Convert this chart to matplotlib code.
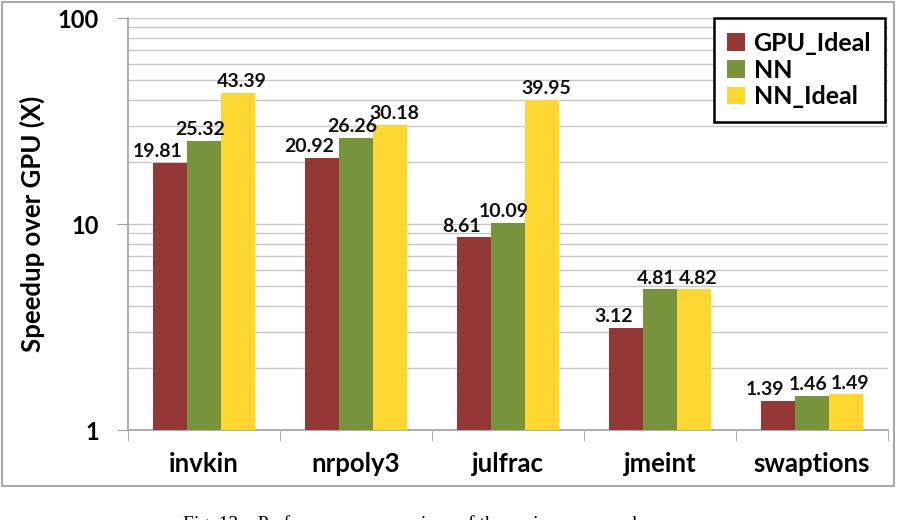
import matplotlib
matplotlib.use("Agg")
import matplotlib.pyplot as plt
import numpy as np
from matplotlib.patches import Rectangle

benchmarks = ["invkin", "nrpoly3", "julfrac", "jmeint", "swaptions"]
series_names = ["GPU_Ideal", "NN", "NN_Ideal"]
gpu_ideal = [19.81, 20.92, 8.61, 3.12, 1.39]
nn = [25.32, 26.26, 10.09, 4.81, 1.46]
nn_ideal = [43.39, 30.18, 39.95, 4.82, 1.49]
colors = ["#953735", "#77933C", "#FFD731"]

plt.rcParams["font.family"] = ["Lato", "DejaVu Sans"]

fig = plt.figure(figsize=(8.98, 5.2), dpi=100)
ax = fig.add_axes([128 / 898, 1 - 430 / 520, 760 / 898, 412 / 520])

x = np.arange(len(benchmarks))
w = 0.224
label_shift = [-9, -3, 3]  # points, keeps neighbouring labels apart
for i, (vals, name) in enumerate(zip([gpu_ideal, nn, nn_ideal], series_names)):
    pos = x + (i - 1) * w
    ax.bar(pos, vals, width=w, color=colors[i], label=name, zorder=3)
    for px, v in zip(pos, vals):
        ax.annotate(f"{v:.2f}", (px, v), xytext=(label_shift[i], 2),
                    textcoords="offset points", ha="center", va="bottom",
                    fontsize=14, fontweight="bold", color="#111111", zorder=4)

ax.set_yscale("log")
ax.set_ylim(1, 100)
ax.set_xlim(-0.5, len(benchmarks) - 0.5)
ax.set_yticks([1, 10, 100])
ax.set_yticklabels(["1", "10", "100"])
ax.yaxis.set_minor_formatter(matplotlib.ticker.NullFormatter())
ax.grid(axis="y", which="both", color="#C8C8C8", linewidth=1, zorder=0)
ax.tick_params(axis="y", which="major", length=8, color="#A0A0A0", labelsize=17, pad=13)
ax.tick_params(axis="y", which="minor", length=0)
for t in ax.get_yticklabels():
    t.set_fontweight("bold")

ax.set_xticks(x)
ax.set_xticklabels(benchmarks, fontsize=18.5, fontweight="bold")
ax.set_xticks(np.arange(len(benchmarks) + 1) - 0.5, minor=True)
ax.tick_params(axis="x", which="major", length=0, pad=16)
ax.tick_params(axis="x", which="minor", length=8, color="#A0A0A0")

for s in ["top", "right"]:
    ax.spines[s].set_visible(False)
for s in ["left", "bottom"]:
    ax.spines[s].set_color("#A0A0A0")
    ax.spines[s].set_linewidth(1.2)

ax.set_ylabel("Speedup over GPU (X)", fontsize=18.5, fontweight="bold", labelpad=9)

leg = ax.legend(loc="upper right", bbox_to_anchor=(0.996, 1.0), borderaxespad=0,
                fancybox=False, edgecolor="black", framealpha=1,
                prop={"weight": "bold", "size": 18}, handlelength=0.7,
                handleheight=0.7, handletextpad=0.35, labelspacing=0.15,
                borderpad=0.55)
leg.get_frame().set_linewidth(1.8)

fig.patches.append(Rectangle((2 / 898, 1 - 486 / 520), 892 / 898, 484 / 520,
                             transform=fig.transFigure, fill=False,
                             edgecolor="#A8A8A8", linewidth=1.5))

fig.text(183 / 898, 1 - 529 / 520, "Fig. 13.   Performance comparison of the various approaches",
         family="Liberation Serif", fontsize=14, ha="left", va="baseline")

fig.savefig("out.png", dpi=100)
